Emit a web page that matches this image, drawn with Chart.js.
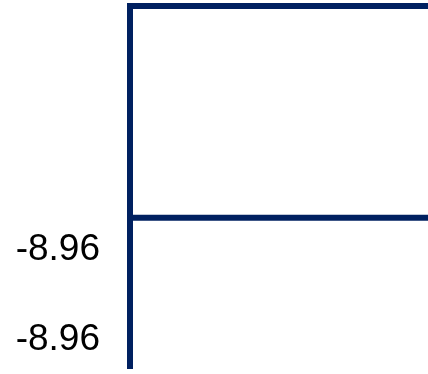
<!DOCTYPE html>
<html>
<head>
<meta charset="utf-8">
<script src="https://cdn.jsdelivr.net/npm/chart.js@4/dist/chart.umd.min.js"></script>
<style>
  html, body { margin: 0; padding: 0; background: #ffffff; }
  #wrap { width: 428px; height: 374px; position: relative; }
</style>
</head>
<body>
<div id="wrap"><canvas id="c" width="428" height="374"></canvas></div>
<script>
// ---- data ----
const categories = ['A', 'B'];
const seriesUpper = [-8.95864, -8.95864];
const seriesLower = [-8.95982, -8.95982];
const tickValues = [-8.9600, -8.9605];
const tickLabels = ['-8.96', '-8.96'];
const yMin = -8.96066;
const yMax = -8.95864;

const NAVY = '#002060';

new Chart(document.getElementById('c'), {
  type: 'line',
  data: {
    labels: categories,
    datasets: [
      { data: seriesUpper, borderColor: NAVY, borderWidth: 6, pointRadius: 0, fill: false, tension: 0, clip: false },
      { data: seriesLower, borderColor: NAVY, borderWidth: 6, pointRadius: 0, fill: false, tension: 0, clip: false }
    ]
  },
  options: {
    responsive: false,
    animation: false,
    layout: { padding: { top: 6, bottom: 5.5, left: 0, right: 0 } },
    plugins: { legend: { display: false }, tooltip: { enabled: false } },
    scales: {
      x: { display: false, offset: false },
      y: {
        min: yMin,
        max: yMax,
        afterBuildTicks: (scale) => { scale.ticks = tickValues.map(v => ({ value: v })); },
        afterFit: (scale) => { scale.width = 130; scale.paddingTop = 0; scale.paddingBottom = 0; },
        grid: { display: false, drawTicks: false },
        border: { display: true, color: NAVY, width: 6 },
        ticks: {
          padding: 30,
          color: '#000000',
          font: { family: '"Liberation Sans", Arial, sans-serif', size: 37 },
          callback: (v, i) => tickLabels[i]
        }
      }
    }
  }
});
</script>
</body>
</html>
